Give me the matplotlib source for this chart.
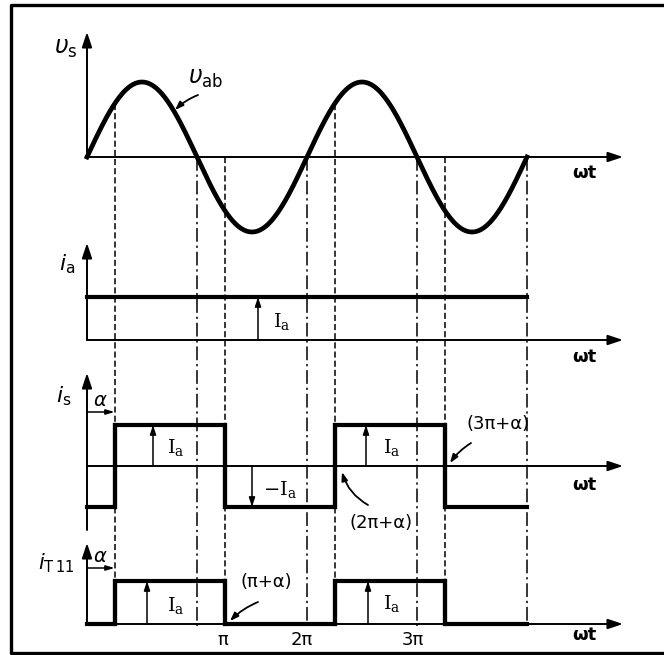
import numpy as np
import matplotlib
matplotlib.use("Agg")
import matplotlib.pyplot as plt

PI = np.pi

# ---- waveform data (angles in radians) ----
alpha = 0.25 * PI                     # firing angle
vab_amp = 1.0                         # peak of v_ab (normalised)
theta = np.linspace(0, 4 * PI, 600)   # ωt over two cycles
vab = vab_amp * np.sin(theta)

Ia = 1.0                              # dc load current
ia_edges = [0.0, 4 * PI]
ia_levels = [Ia]

is_edges = [0.0, alpha, PI + alpha, 2 * PI + alpha, 3 * PI + alpha, 4 * PI]
is_levels = [-Ia, Ia, -Ia, Ia, -Ia]

it11_edges = [0.0, alpha, PI + alpha, 2 * PI + alpha, 3 * PI + alpha, 4 * PI]
it11_levels = [0.0, Ia, 0.0, Ia, 0.0]

dashed_marks = [alpha, PI + alpha, 2 * PI + alpha, 3 * PI + alpha]
dashdot_marks = [PI, 2 * PI, 3 * PI, 4 * PI]

tick_labels = ["π", "2π", "3π"]
tick_pos = [1.23 * PI, 1.955 * PI, 2.96 * PI]

# ---- figure ----
W, H = 664, 655
fig = plt.figure(figsize=(W / 100, H / 100), dpi=100)
fig.patch.set_facecolor("white")

X0, XPI = 87.0, 110.0   # pixel origin and pixels per π


def panel(zero_px, unit_px):
    ax = fig.add_axes([0, 0, 1, 1])
    ax.set_xlim(-X0 / XPI * PI, (W - X0) / XPI * PI)
    ax.set_ylim(-(H - zero_px) / unit_px, zero_px / unit_px)
    ax.axis("off")
    ax.patch.set_alpha(0)
    return ax


ax1 = panel(157, 75)   # v_s
ax2 = panel(340, 43)   # i_a
ax3 = panel(466, 41)   # i_s
ax4 = panel(624, 43)   # i_T11

# pixel-space layer for the frame and labels
axp = fig.add_axes([0, 0, 1, 1])
axp.set_xlim(0, W)
axp.set_ylim(H, 0)
axp.axis("off")
axp.patch.set_alpha(0)
axp.plot([W + 5, 11, 11, W + 5], [5, 5, 653, 653], color="k", lw=2.4,
         solid_capstyle="projecting", clip_on=False)

K = "black"
THICK = 3.0
AX_LW = 1.4
x_end = (623 - X0) / XPI * PI


def axis_arrow(ax, start, end, lw=AX_LW, hl=0.9, hw=0.3):
    ax.annotate("", xy=end, xytext=start,
                arrowprops=dict(arrowstyle=f"-|>,head_length={hl},head_width={hw}",
                                lw=lw, color=K, shrinkA=0, shrinkB=0))


def value_arrow(ax, x, y0, y1):
    ax.annotate("", xy=(x, y1), xytext=(x, y0),
                arrowprops=dict(arrowstyle="-|>,head_length=0.55,head_width=0.18",
                                lw=1.1, color=K, shrinkA=0, shrinkB=0))


def steps(ax, edges, levels):
    xs, ys = [], []
    for i, lv in enumerate(levels):
        xs += [edges[i], edges[i + 1]]
        ys += [lv, lv]
    ax.plot(xs, ys, color=K, lw=THICK, solid_joinstyle="miter")


def to_ax1(ax, y):
    px = ax.transData.transform((0, y))
    return ax1.transData.inverted().transform(px)[1]


# ---- guide lines through all panels ----
y_bottom = to_ax1(ax4, 0.0)
for m in dashed_marks:
    ytop = max(np.sin(m) * vab_amp, 0.0)
    ax1.plot([m, m], [ytop, y_bottom], color=K, lw=1.1, ls=(0, (4, 2)))
for m in dashdot_marks:
    ax1.plot([m, m], [0, to_ax1(ax4, -0.05)], color=K, lw=1.1,
             ls=(0, (9, 2.5, 1.5, 2.5)))

# ---- panel 1: v_s ----
axis_arrow(ax1, (0, 0), (x_end, 0))
axis_arrow(ax1, (0, 0), (0, (157 - 32) / 75))
ax1.plot(theta, vab, color=K, lw=3.4)

# ---- panel 2: i_a ----
axis_arrow(ax2, (0, 0), (x_end, 0))
axis_arrow(ax2, (0, 0), (0, (340 - 243) / 43))
steps(ax2, ia_edges, ia_levels)
value_arrow(ax2, (258 - X0) / XPI * PI, 0, Ia)

# ---- panel 3: i_s ----
axis_arrow(ax3, (0, 0), (x_end, 0))
axis_arrow(ax3, (0, -(530 - 466) / 41), (0, (466 - 373) / 41))
steps(ax3, is_edges, is_levels)
for i in range(1, len(is_edges) - 1):
    ax3.plot([is_edges[i]] * 2, [is_levels[i - 1], is_levels[i]], color=K, lw=THICK)
value_arrow(ax3, (153 - X0) / XPI * PI, 0, Ia)
value_arrow(ax3, (252 - X0) / XPI * PI, 0, -Ia)
value_arrow(ax3, (366 - X0) / XPI * PI, 0, Ia)
ax3.annotate("", xy=(alpha, (466 - 412) / 41), xytext=(0, (466 - 412) / 41),
             arrowprops=dict(arrowstyle="-|>,head_length=0.5,head_width=0.15",
                             lw=1.1, color=K, shrinkA=0, shrinkB=0))

# ---- panel 4: i_T11 ----
axis_arrow(ax4, (0, 0), (x_end, 0))
axis_arrow(ax4, (0, 0), (0, (624 - 543) / 43))
steps(ax4, it11_edges, it11_levels)
for i in range(1, len(it11_edges) - 1):
    ax4.plot([it11_edges[i]] * 2, [it11_levels[i - 1], it11_levels[i]], color=K, lw=THICK)
value_arrow(ax4, (147 - X0) / XPI * PI, 0, Ia)
value_arrow(ax4, (368 - X0) / XPI * PI, 0, Ia)
ax4.annotate("", xy=(alpha, (624 - 568) / 43), xytext=(0, (624 - 568) / 43),
             arrowprops=dict(arrowstyle="-|>,head_length=0.5,head_width=0.15",
                             lw=1.1, color=K, shrinkA=0, shrinkB=0))

# ---- labels (pixel layer) ----
def txt(x, y, s, size=14, serif=False, **kw):
    axp.text(x, y, s, fontsize=size, ha="center", va="center", color=K,
             math_fontfamily="dejavuserif" if serif else "dejavusans", **kw)


IA = r"$\mathrm{I}_{\mathrm{a}}$"
txt(66, 48, r"$\upsilon_{\mathrm{s}}$", size=17)
txt(206, 78, r"$\upsilon_{\mathrm{ab}}$", size=17)
txt(67, 264, r"$i_{\mathrm{a}}$", size=16)
txt(64, 396, r"$i_{\mathrm{s}}$", size=16)
txt(56, 563, r"$i_{\mathrm{T\,11}}$", size=15)
for y in (173, 357, 485, 635):
    txt(584, y, "ωt", size=13, fontweight="bold")

txt(282, 322, IA, serif=True)
txt(176, 447, IA, serif=True)
txt(280, 490, r"$-\mathrm{I}_{\mathrm{a}}$", serif=True)
txt(392, 447, IA, serif=True)
txt(176, 606, IA, serif=True)
txt(392, 604, IA, serif=True)
txt(100, 400, r"$\alpha$", size=14)
txt(100, 556, r"$\alpha$", size=14)

txt(381, 523, "(2π+α)", size=13)
txt(498, 424, "(3π+α)", size=13)
txt(266, 582, "(π+α)", size=13)
for lab, p in zip(tick_labels, tick_pos):
    x_px = ax4.transData.transform((p, 0))[0]
    txt(x_px, 640, lab, size=13)

pointer = dict(arrowstyle="-|>,head_length=0.5,head_width=0.18", lw=1.3, color=K,
               shrinkA=0, shrinkB=0)
axp.annotate("", xy=(175, 110), xytext=(198, 95),
             arrowprops=dict(**pointer, connectionstyle="arc3,rad=0.1"))
axp.annotate("", xy=(342, 472), xytext=(368, 505),
             arrowprops=dict(**pointer, connectionstyle="arc3,rad=-0.2"))
axp.annotate("", xy=(450, 463), xytext=(471, 443),
             arrowprops=dict(**pointer, connectionstyle="arc3,rad=0.1"))
axp.annotate("", xy=(230, 621), xytext=(258, 602),
             arrowprops=dict(**pointer, connectionstyle="arc3,rad=0.1"))

fig.savefig("out.png", dpi=100, facecolor="white")
